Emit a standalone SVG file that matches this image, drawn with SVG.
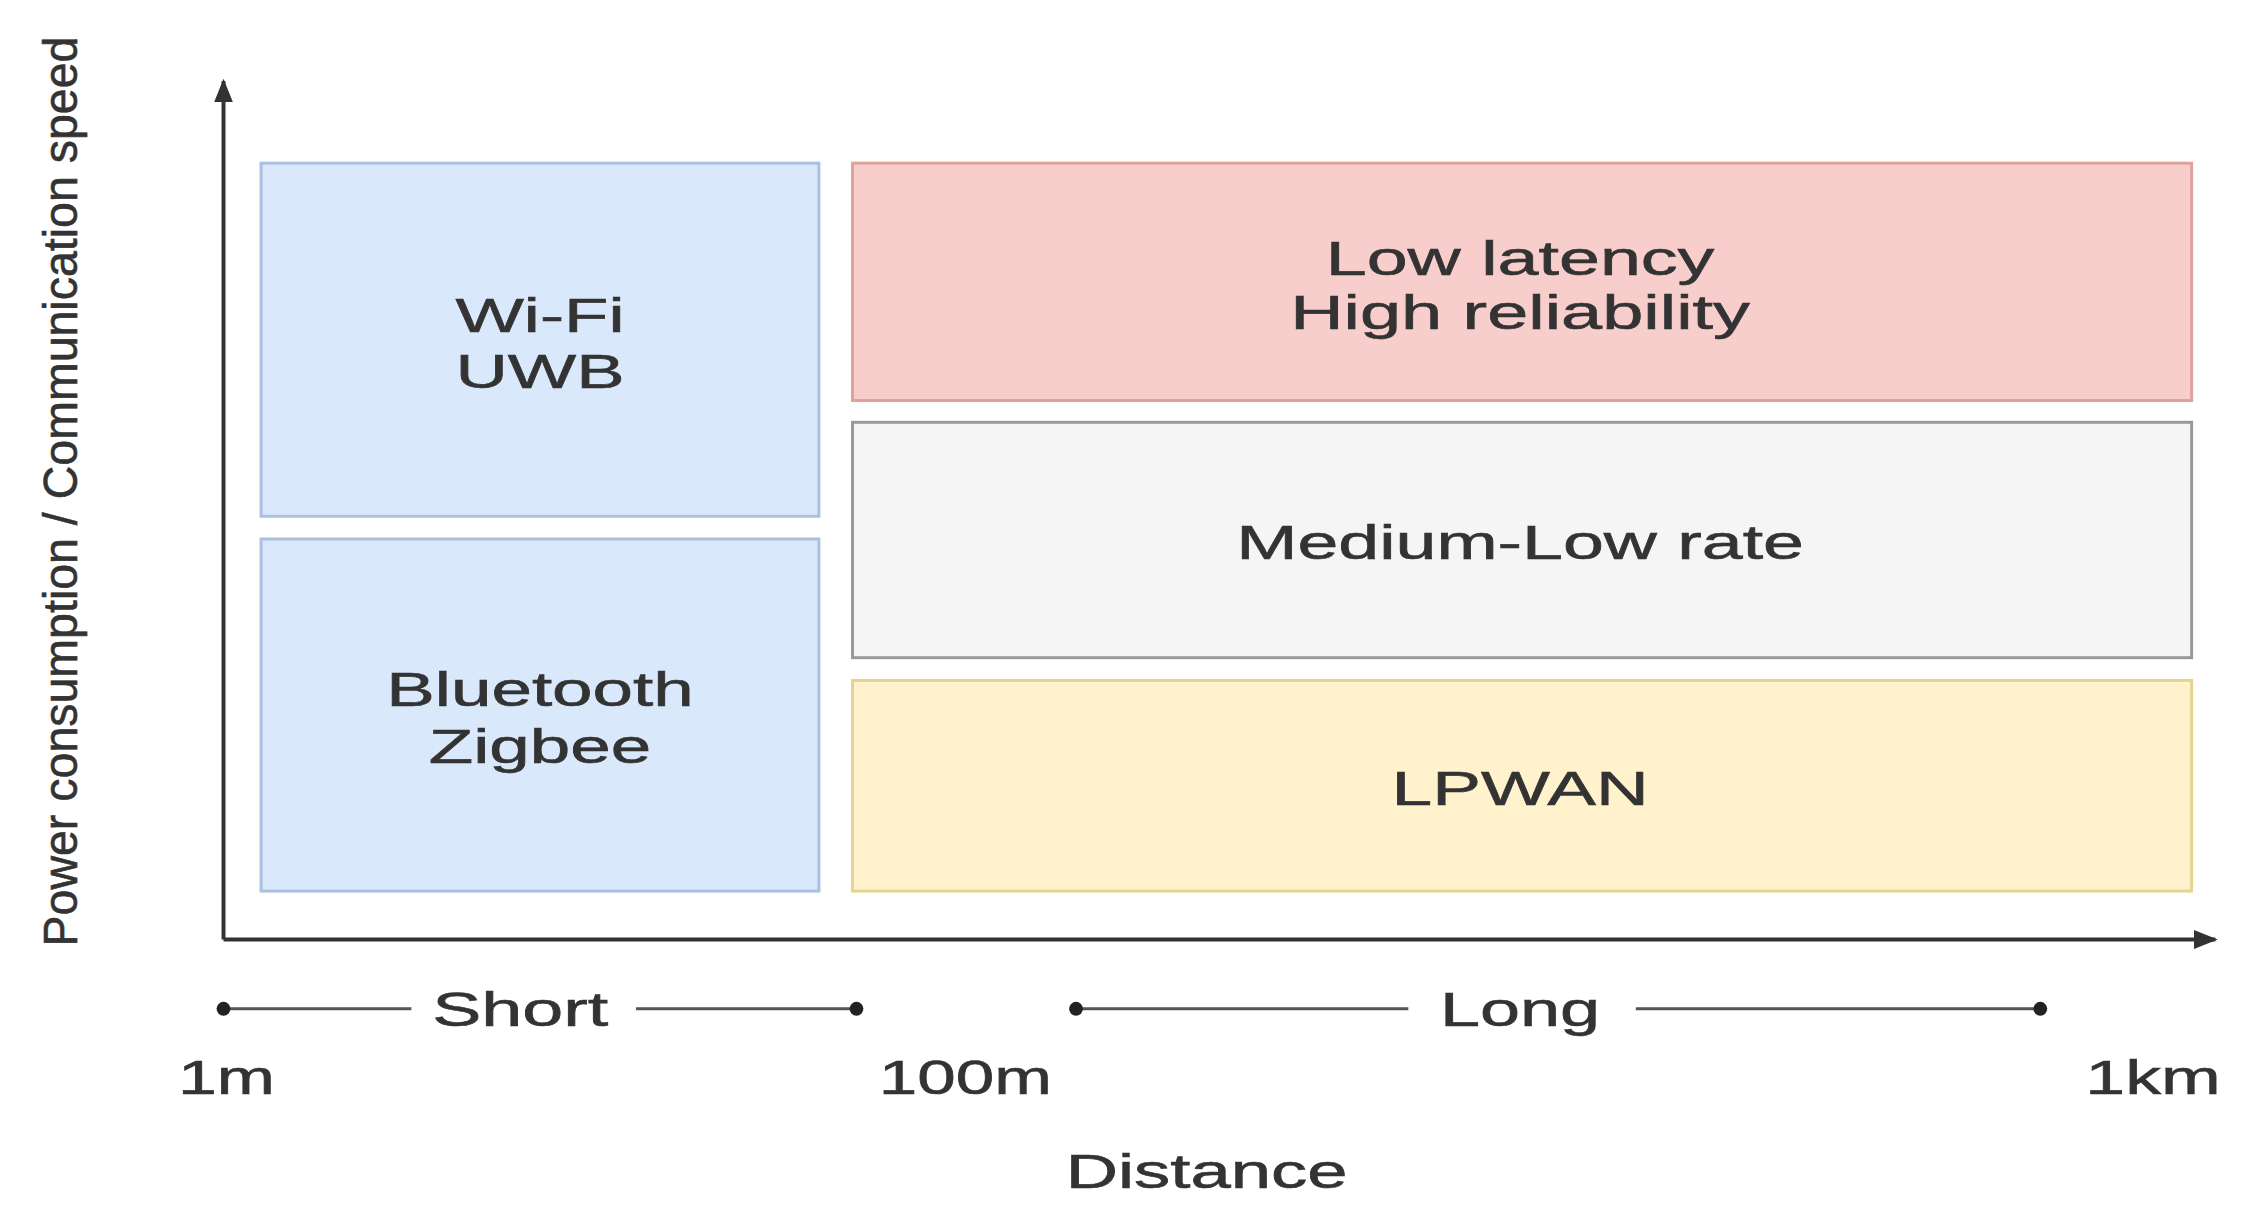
<svg xmlns="http://www.w3.org/2000/svg" width="2265" height="1218" viewBox="0 0 2265 1218">
<style>
text{font-family:"Liberation Sans",Arial,sans-serif;font-size:48px;fill:#333;text-anchor:middle;stroke:#333;stroke-width:0.6}
.ax{stroke:#333;stroke-width:4;fill:none}
.ln{stroke:#555;stroke-width:3}
</style>
<defs>
<marker id="ah" viewBox="0 0 10 10" refX="9" refY="5" markerWidth="6" markerHeight="6" orient="auto"><path d="M0,1 L10,5 L0,9 Z" fill="#333"/></marker>
</defs>
<rect width="2265" height="1218" fill="#fff"/>
<g transform="scale(0.989)">
<g id="connectors">
<path class="ax" d="M226,950 V82" marker-end="url(#ah)"/>
<path class="ax" d="M226,950 H2240" marker-end="url(#ah)"/>
<path class="ln" d="M226,1020 H416 M643,1020 H866 M1088,1020 H1424 M1654,1020 H2063"/>
<g fill="#222"><circle cx="226" cy="1020" r="7"/><circle cx="866" cy="1020" r="7"/><circle cx="1088" cy="1020" r="7"/><circle cx="2063" cy="1020" r="7"/></g>
</g>
<g id="wifi"><rect x="264" y="165" width="564" height="357" fill="#dae8fc" stroke="#a9c0e0" stroke-width="3"/><text x="546" y="336" textLength="171" lengthAdjust="spacingAndGlyphs">Wi-Fi</text><text x="546" y="392" textLength="171" lengthAdjust="spacingAndGlyphs">UWB</text></g>
<g id="bt"><rect x="264" y="545" width="564" height="356" fill="#dae8fc" stroke="#a9c0e0" stroke-width="3"/><text x="546" y="714" textLength="311" lengthAdjust="spacingAndGlyphs">Bluetooth</text><text x="546" y="771" textLength="225" lengthAdjust="spacingAndGlyphs">Zigbee</text></g>
<g id="lowlat"><rect x="862" y="165" width="1354" height="240" fill="#f8cecc" stroke="#e0a09c" stroke-width="3"/><text x="1537" y="278" textLength="393" lengthAdjust="spacingAndGlyphs">Low latency</text><text x="1537" y="333" textLength="465" lengthAdjust="spacingAndGlyphs">High reliability</text></g>
<g id="medium"><rect x="862" y="427" width="1354" height="238" fill="#f5f5f5" stroke="#999" stroke-width="3"/><text x="1537" y="565" textLength="574" lengthAdjust="spacingAndGlyphs">Medium-Low rate</text></g>
<g id="lpwan"><rect x="862" y="688" width="1354" height="213" fill="#fff2cc" stroke="#e6d38e" stroke-width="3"/><text x="1537" y="814" textLength="260" lengthAdjust="spacingAndGlyphs">LPWAN</text></g>
<g id="labels">
<text x="526" y="1037" textLength="178" lengthAdjust="spacingAndGlyphs">Short</text>
<text x="1537" y="1037" textLength="162" lengthAdjust="spacingAndGlyphs">Long</text>
<text x="229" y="1106" textLength="98" lengthAdjust="spacingAndGlyphs">1m</text>
<text x="976" y="1106" textLength="175" lengthAdjust="spacingAndGlyphs">100m</text>
<text x="2177" y="1106" textLength="137" lengthAdjust="spacingAndGlyphs">1km</text>
<text x="1220" y="1201" textLength="285" lengthAdjust="spacingAndGlyphs">Distance</text>
<text transform="translate(78,497) rotate(-90)" textLength="920" lengthAdjust="spacingAndGlyphs" stroke-width="0">Power consumption / Communication speed</text>
</g>
</g>
</svg>
